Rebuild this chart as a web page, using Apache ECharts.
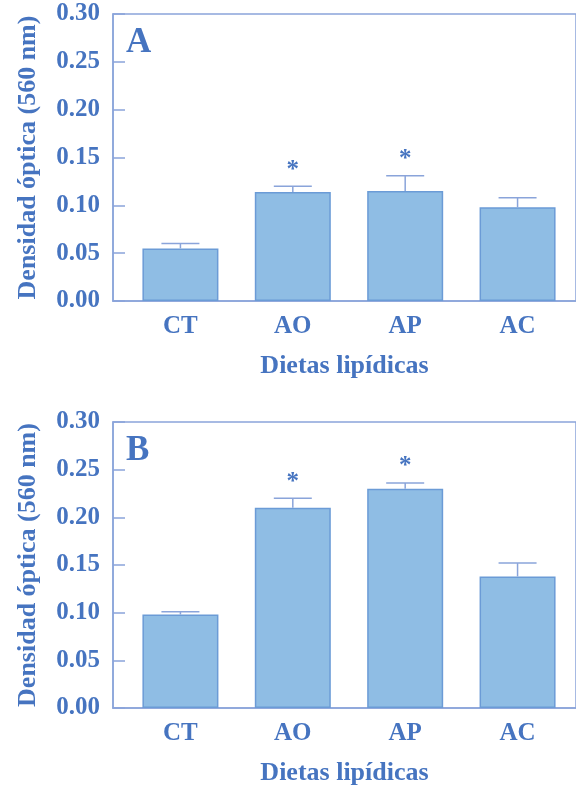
<!DOCTYPE html>
<html>
<head>
<meta charset="utf-8">
<style>
  html, body { margin: 0; padding: 0; background: #ffffff; }
  #chart { width: 576px; height: 787px; }
</style>
<script src="https://cdn.jsdelivr.net/npm/echarts@6/dist/echarts.min.js"></script>
</head>
<body>
<div id="chart"></div>
<script>
// Diet groups and optical density (560 nm), mean and error, for panels A and B
const categories = ['CT', 'AO', 'AP', 'AC'];
const meansA = [0.055, 0.114, 0.115, 0.098];
const errorsA = [0.005, 0.006, 0.016, 0.010];
const marksA = ['', '*', '*', ''];
const meansB = [0.098, 0.210, 0.230, 0.138];
const errorsB = [0.003, 0.010, 0.006, 0.014];
const marksB = ['', '*', '*', ''];
const yMin = 0, yMax = 0.30, yStep = 0.05;
const panelNames = ['A', 'B'];
const yTitle = 'Densidad óptica (560 nm)';
const xTitle = 'Dietas lipídicas';

const TEXT = '#4674c0';
const AXIS = '#8aa4da';
const FILL = '#8fbde4';
const EDGE = '#6b9bd6';
const FONT = '"Liberation Serif", "Times New Roman", serif';

const chart = echarts.init(document.getElementById('chart'), null, { renderer: 'canvas' });

// the plot boxes run off the right edge of the page
const grids = [
  { left: 113, top: 14, width: 463, height: 287 },
  { left: 113, top: 422, width: 463, height: 286 }
];

function xAxisFor(i) {
  return {
    gridIndex: i, type: 'value', min: -0.6, max: 3.52,
    minInterval: 1, maxInterval: 1,
    axisLine: { show: true, onZero: false, lineStyle: { color: AXIS, width: 1.5 } },
    axisTick: { show: false },
    splitLine: { show: false },
    axisLabel: {
      color: TEXT, fontFamily: FONT, fontWeight: 'bold', fontSize: 25, margin: 13,
      showMinLabel: false, showMaxLabel: false,
      formatter: v => (Number.isInteger(v) && v >= 0 && v < categories.length) ? categories[v] : ''
    },
    name: xTitle, nameLocation: 'middle', nameGap: 52,
    nameTextStyle: { color: TEXT, fontFamily: FONT, fontWeight: 'bold', fontSize: 26 }
  };
}

function yAxisFor(i) {
  return {
    gridIndex: i, type: 'value', min: yMin, max: yMax, interval: yStep,
    axisLine: { show: true, onZero: false, lineStyle: { color: AXIS, width: 1.5 } },
    axisTick: { show: true, inside: true, length: 12, lineStyle: { color: AXIS, width: 1.5 } },
    splitLine: { show: false },
    axisLabel: {
      color: TEXT, fontFamily: FONT, fontWeight: 'bold', fontSize: 25, margin: 13,
      formatter: v => v.toFixed(2)
    },
    name: yTitle, nameLocation: 'middle', nameRotate: 90, nameGap: 72,
    nameTextStyle: { color: TEXT, fontFamily: FONT, fontWeight: 'bold', fontSize: 26 }
  };
}

function barSeries(i, means) {
  return {
    type: 'bar', xAxisIndex: i, yAxisIndex: i, barWidth: 76,
    itemStyle: { color: FILL, borderColor: EDGE, borderWidth: 1.5 },
    data: means.map((m, k) => [k, m]),
    silent: true, z: 2
  };
}

function errorSeries(i, means, errors, marks) {
  return {
    type: 'custom', xAxisIndex: i, yAxisIndex: i, silent: true, z: 3,
    data: means.map((m, k) => [k, m, errors[k]]),
    renderItem: function (params, api) {
      const x = api.value(0), m = api.value(1), e = api.value(2);
      const mark = marks[params.dataIndex];
      const base = api.coord([x, m]);
      const top = api.coord([x, m + e]);
      const half = 19;
      const style = { stroke: AXIS, lineWidth: 1.5 };
      const children = [
        { type: 'line', shape: { x1: base[0], y1: base[1], x2: top[0], y2: top[1] }, style },
        { type: 'line', shape: { x1: top[0] - half, y1: top[1], x2: top[0] + half, y2: top[1] }, style }
      ];
      if (mark) {
        children.push({
          type: 'text',
          style: {
            text: mark, x: top[0], y: top[1] - 16,
            align: 'center', verticalAlign: 'middle',
            fill: TEXT, font: 'bold 25px ' + FONT
          }
        });
      }
      return { type: 'group', children };
    }
  };
}

const option = {
  backgroundColor: '#ffffff',
  animation: false,
  grid: grids.map(g => Object.assign({
    show: true, borderColor: AXIS, borderWidth: 1.5, backgroundColor: 'transparent',
    containLabel: false
  }, g)),
  title: panelNames.map((t, i) => ({
    text: t, left: 121, top: grids[i].top + 6,
    textStyle: { color: TEXT, fontFamily: FONT, fontWeight: 'bold', fontSize: 35 }
  })),
  xAxis: [xAxisFor(0), xAxisFor(1)],
  yAxis: [yAxisFor(0), yAxisFor(1)],
  series: [
    barSeries(0, meansA), errorSeries(0, meansA, errorsA, marksA),
    barSeries(1, meansB), errorSeries(1, meansB, errorsB, marksB)
  ]
};

chart.setOption(option);
</script>
</body>
</html>
